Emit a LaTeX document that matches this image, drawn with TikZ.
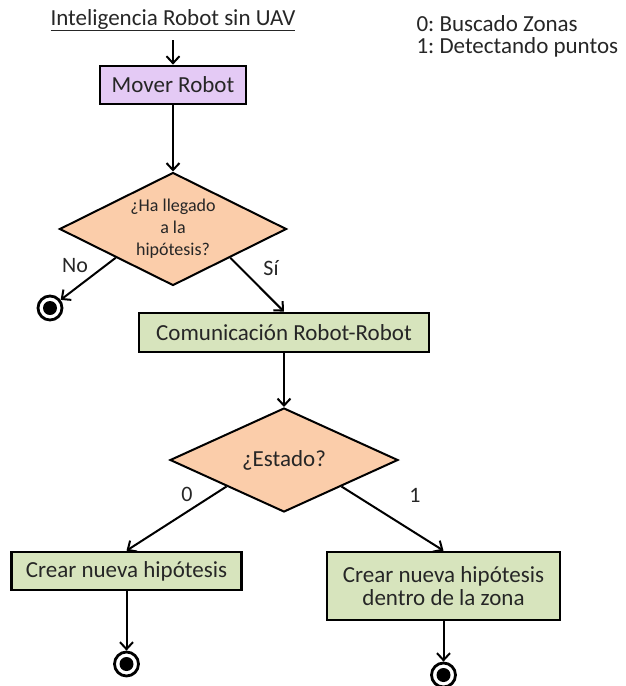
\documentclass[tikz,border=0pt]{standalone}
\usepackage{fontspec}
\setmainfont{Carlito}
\usetikzlibrary{shapes.geometric,arrows.meta}
\definecolor{lila}{RGB}{228,202,245}
\definecolor{durazno}{RGB}{251,205,170}
\definecolor{verde}{RGB}{215,228,189}
\frenchspacing

\begin{document}
\begin{tikzpicture}[x=1pt,y=-1pt,
  every node/.style={font=\fontsize{23}{26}\selectfont, text=black!85},
  proc/.style={draw, line width=2.7pt, inner sep=0pt, align=center},
  dec/.style={diamond, draw, line width=2pt, fill=durazno, inner sep=0pt,
    aspect=2, align=center},
  flow/.style={line width=2pt,
    -{Straight Barb[length=7pt,width=13pt,line width=2pt]}},
  endstate/.style={circle, draw, line width=2.8pt, fill=white,
    minimum size=24pt, inner sep=0pt},
  lbl/.style={inner sep=0pt, font=\fontsize{22}{26}\selectfont}
]
\useasboundingbox (0,0) rectangle (626,686);

% heading and legend
\node (titulo) at (173,20) {\underline{Inteligencia Robot sin UAV}};
\node[anchor=west] (ley0) at (413,24) {0: Buscado Zonas};
\node[anchor=west] (ley1) at (413,47) {1: Detectando puntos};
\coordinate (inicio) at (173,40);

% first stage
\node[proc, fill=lila, minimum width=146pt, minimum height=38pt] (mover) at (173,85) {Mover Robot};
\node[dec, minimum width=227pt, minimum height=113pt,
  font=\fontsize{18}{22}\selectfont] (d1) at (173,229) {¿Ha llegado\\a la\\hipótesis?};
\node[endstate] (fin0) at (50,308) {};
\node[proc, fill=verde, minimum width=290pt, minimum height=39pt] (com) at (284,332.5) {Comunicación Robot-Robot};

% second stage
\node[dec, minimum width=228pt, minimum height=104pt] (d2) at (284,460) {¿Estado?};
\node[proc, fill=verde, minimum width=230pt, minimum height=38pt] (crear0) at (126.5,571) {Crear nueva hipótesis};
\node[proc, fill=verde, minimum width=233pt, minimum height=68pt,
  font=\fontsize{23}{23}\selectfont] (crear1) at (443.5,586) {Crear nueva hipótesis\\dentro de la zona};
\node[endstate] (fin1) at (126.5,664) {};
\node[endstate] (fin2) at (443.5,675) {};

% filled centres of the end states
\foreach \f in {fin0,fin1,fin2}
  \fill (\f.center) circle (7pt);

% branch labels
\node[lbl] (no) at (75,266) {No};
\node[lbl] (si) at (271,268) {Sí};
\node[lbl] (cero) at (187,494) {0};
\node[lbl] (uno) at (415,495) {1};

% connectors
\draw[flow] (inicio) -- (mover.north);
\draw[flow] (mover.south) -- (d1.north);
\draw[flow] (d1.south west) -- (fin0);
\draw[flow] (d1.south east) -- (com.north);
\draw[flow] (com.south) -- (d2.north);
\draw[flow] (d2.south west) -- (crear0.north);
\draw[flow] (d2.south east) -- (crear1.north);
\draw[flow] (crear0.south) -- (fin1);
\draw[flow] (crear1.south) -- (fin2);
\end{tikzpicture}
\end{document}
